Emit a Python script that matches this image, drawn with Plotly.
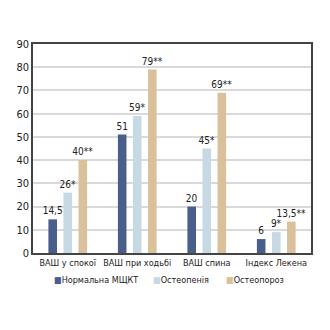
import plotly.graph_objects as go

categories = ["ВАШ у спокої", "ВАШ при ходьбі", "ВАШ спина", "Індекс Лекена"]
normal = [14.5, 51, 20, 6]
osteopenia = [26, 59, 45, 9]
osteoporosis = [40, 79, 69, 13.5]
normal_labels = ["14,5", "51", "20", "6"]
osteopenia_labels = ["26*", "59*", "45*", "9*"]
osteoporosis_labels = ["40**", "79**", "69**", "13,5**"]
series_names = ["Нормальна МЩКТ", "Остеопенія", "Остеопороз"]
colors = ["#4a5e8c", "#c6d9e5", "#dbc09c"]
y_ticks = [0, 10, 20, 30, 40, 50, 60, 70, 80, 90]

FONT = "DejaVu Sans Condensed, Roboto, sans-serif"
legend_x = [0.068, 0.424, 0.686]   # paper-fraction positions of legend entries

fig = go.Figure()
for name, vals, labels, col in zip(series_names, [normal, osteopenia, osteoporosis],
                                   [normal_labels, osteopenia_labels, osteoporosis_labels], colors):
    fig.add_trace(go.Bar(
        x=categories, y=vals, name=name, marker_color=col,
        marker_line_width=0, showlegend=False,
        text=labels, textposition="outside", cliponaxis=False, constraintext="none",
        textfont=dict(size=10, color="#222", family=FONT),
    ))

# legend entries (compact, as in the reference)
for name, col, lx in zip(series_names, colors, legend_x):
    fig.add_annotation(
        xref="paper", yref="paper", x=lx, y=-0.128, xanchor="left", yanchor="middle",
        showarrow=False,
        text=f"<span style='color:{col}'>■</span>{name}",
        font=dict(size=9, family=FONT, color="#222"),
    )

fig.update_layout(
    width=330, height=330,
    margin=dict(l=33, r=19, t=44, b=77),
    paper_bgcolor="white", plot_bgcolor="white",
    barmode="group", bargap=0.35, bargroupgap=0.43,
    font=dict(family=FONT, size=11, color="#222"),
    showlegend=False,
    yaxis=dict(range=[0, 90], tickvals=y_ticks, showgrid=True, gridcolor="#d9d9d9",
               gridwidth=1.5, zeroline=False, showline=True, linecolor="#444", linewidth=1.5,
               mirror=True, ticks="", tickfont=dict(size=11, family=FONT)),
    xaxis=dict(showline=True, linecolor="#444", linewidth=1.5, mirror=True, ticks="",
               tickangle=0, tickfont=dict(size=9, family=FONT)),
)

fig.write_html("out.html")
